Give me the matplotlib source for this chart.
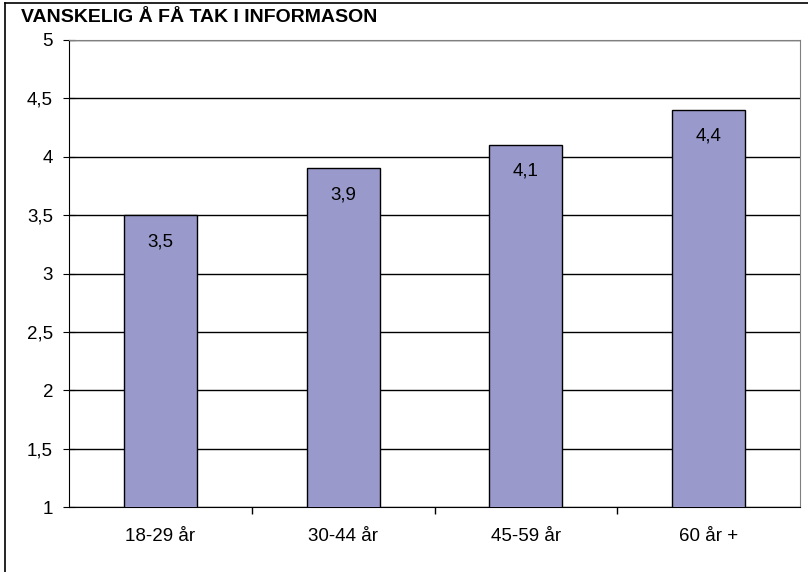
import matplotlib.pyplot as plt
from matplotlib.lines import Line2D
from matplotlib.ticker import FuncFormatter, FixedLocator

plt.rcParams['font.family'] = ['Liberation Sans', 'DejaVu Sans']

categories = ['18-29 år', '30-44 år', '45-59 år', '60 år +']
values = [3.5, 3.9, 4.1, 4.4]
title = 'VANSKELIG Å FÅ TAK I INFORMASON'

fig = plt.figure(figsize=(8.08, 5.72), dpi=100)
ax = fig.add_axes([69 / 808, 1 - 507 / 572, (800 - 69) / 808, (507 - 40) / 572])

x = range(len(categories))
bars = ax.bar(x, values, width=0.4, bottom=0, color='#9999CC', edgecolor='black', linewidth=1, zorder=3)

ax.set_xlim(-0.5, len(categories) - 0.5)
ax.set_ylim(1, 5)
ax.set_yticks([1 + 0.5 * i for i in range(9)])
ax.yaxis.set_major_formatter(FuncFormatter(lambda v, p: ('%g' % v).replace('.', ',')))
ax.yaxis.grid(True, color='black', linewidth=1)
ax.set_axisbelow(True)

ax.set_xticks(list(x))
ax.set_xticklabels(categories, fontsize=13.5)
ax.xaxis.set_minor_locator(FixedLocator([i + 0.5 for i in range(len(categories) - 1)]))
ax.tick_params(axis='x', which='major', length=0, pad=15)
ax.tick_params(axis='x', which='minor', length=5, direction='out', width=1)
ax.tick_params(axis='y', direction='inout', length=8, labelsize=13.5, pad=7.5)

for side in ['top', 'right']:
    ax.spines[side].set_color('#808080')
for side in ['left', 'bottom']:
    ax.spines[side].set_color('black')

for i, v in enumerate(values):
    ax.annotate(('%g' % v).replace('.', ','), (i, v), xytext=(0, -19), textcoords='offset points',
                ha='center', va='center', fontsize=13.5, zorder=4)

fig.text(21 / 808, 1 - 17 / 572, title, fontsize=14, fontweight='bold', ha='left', va='center')

fig.add_artist(Line2D([5 / 808, 5 / 808], [0, 1 - 3 / 572], color='black', linewidth=1.2, transform=fig.transFigure))
fig.add_artist(Line2D([5 / 808, 1], [1 - 3 / 572, 1 - 3 / 572], color='black', linewidth=1.2, transform=fig.transFigure))

fig.savefig('out.png', dpi=100)
